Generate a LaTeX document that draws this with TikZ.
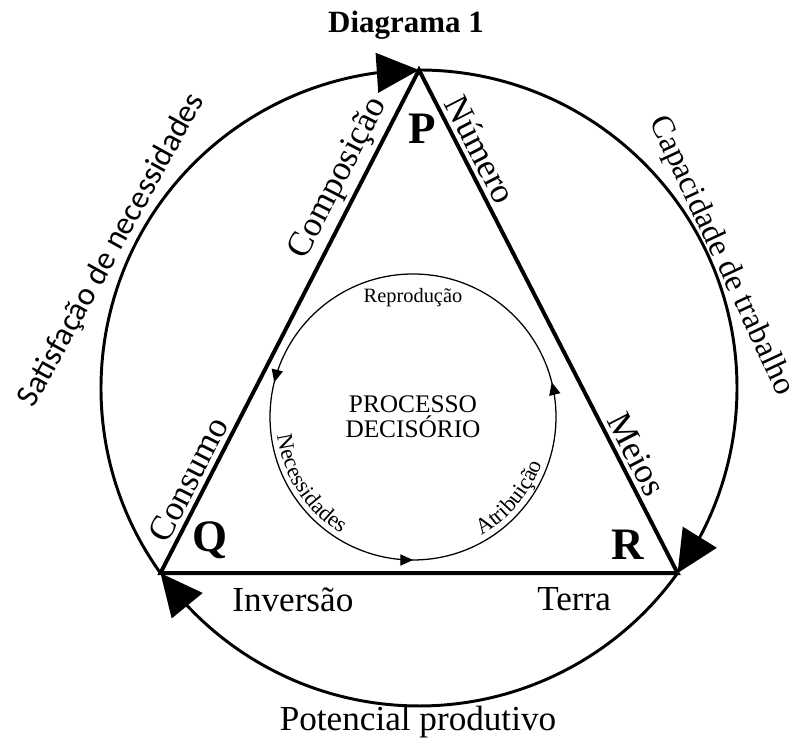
\documentclass[tikz,border=0pt]{standalone}
\usepackage{fontspec}
\setmainfont{Liberation Serif}
\newfontfamily\sansf{Carlito}
\usepackage{tikz}
\usetikzlibrary{arrows.meta, bending, decorations.markings, decorations.text}

\newcommand{\ringfont}{\fontsize{14.5}{16}\selectfont}
\newcommand{\arcfont}{\fontsize{16}{17}\selectfont}

\begin{document}
\begin{tikzpicture}[x=0.025cm, y=0.025cm,
		side/.style={line width=2.8pt, line join=miter},
		bigarc/.style={line width=2.1pt, -{Triangle[length=30pt, width=28pt]}},
		ring/.style={line width=0.9pt},
		edgelabel/.style={font=\fontsize{25}{27}\selectfont, sloped, inner sep=3pt},
		vlabel/.style={font=\fontsize{32}{34}\selectfont\bfseries}]
			\useasboundingbox (0,0) rectangle (803,748);
			% big circle and triangle corners
			\coordinate (o) at (419,360);
			\path (o) ++(90:318) coordinate (p);
			\path (o) ++(215.6:318) coordinate (q);
			\path (o) ++(324.4:318) coordinate (r);
			\coordinate (c) at (413,331);

			\node[font=\fontsize{22}{24}\selectfont\bfseries] (title) at (406,723) {Diagrama 1};

			\draw[bigarc] (q) arc[start angle=215.6, end angle=90, radius=318];
			\draw[bigarc] (p) arc[start angle=90, end angle=-35.6, radius=318];
			\draw[bigarc] (r) arc[start angle=-35.6, end angle=-144.4, radius=318];

			\draw[side]
						(q) -- node[edgelabel, above, pos=0.17] {Consumo}
						       node[edgelabel, above, pos=0.765] {Composição} (p)
						    -- node[edgelabel, above, pos=0.175] {Número}
						       node[edgelabel, above, pos=0.78] {Meios} (r)
						    -- node[edgelabel, below=6pt, pos=0.2] {Terra}
						       node[edgelabel, below=6pt, pos=0.744] {Inversão} (q) -- cycle;

			\node[vlabel] (pl) at (422,619) {P};
			\node[vlabel] (ql) at (210,208) {Q};
			\node[vlabel] (rl) at (628,203) {R};

			% inner cycle
			\draw[ring, postaction={decorate}, decoration={markings,
						mark=at position 0.039 with {\arrow{Triangle[length=9pt, width=8pt]}},
						mark=at position 0.461 with {\arrow{Triangle[length=9pt, width=8pt]}},
						mark=at position 0.75 with {\arrow{Triangle[length=9pt, width=8pt]}}}]
						(c) circle[radius=143];
			\node[font=\fontsize{18}{18}\selectfont, align=center] (proc) at (c) {PROCESSO\\DECISÓRIO};
			\node[font=\ringfont] (repr) at (413,450) {Reprodução};
			\path[decorate, decoration={text along path, text align=center,
						text={|\arcfont|Necessidades}}]
						(c) ++(180:137) arc[start angle=180, end angle=246, radius=137];
			\path[decorate, decoration={text along path, text align=center,
						text={|\arcfont|Atribuição}}]
						(c) ++(288:137) arc[start angle=288, end angle=352, radius=137];

			% outer labels
			\node[font=\sansf\fontsize{23}{25}\selectfont, rotate=61] (satisf) at (112,498) {Satisfação de necessidades};
			\node[font=\fontsize{23}{25}\selectfont, rotate=-65, inner sep=1pt] (capac) at (721,492) {Capacidade de trabalho};
			\node[font=\fontsize{25}{27}\selectfont] (potenc) at (418,26) {Potencial produtivo};
		\end{tikzpicture}
\end{document}
